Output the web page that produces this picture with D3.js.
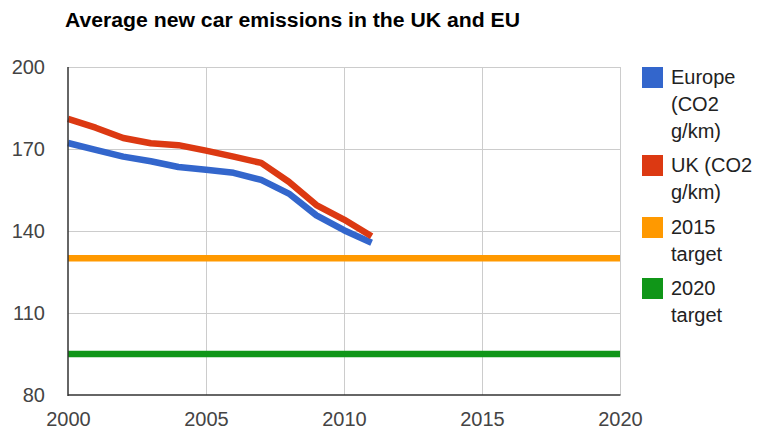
<!DOCTYPE html>
<html>
<head>
<meta charset="utf-8">
<script src="https://cdn.jsdelivr.net/npm/d3@7"></script>
<style>
  html, body { margin: 0; padding: 0; background: #fff; }
  svg { display: block; font-family: Arial, "Liberation Sans", sans-serif; }
</style>
</head>
<body>
<svg id="chart" width="758" height="429"></svg>
<script>
const title = "Average new car emissions in the UK and EU";
const years = [2000, 2001, 2002, 2003, 2004, 2005, 2006, 2007, 2008, 2009, 2010, 2011];
const europe = [172.2, 169.7, 167.2, 165.5, 163.4, 162.4, 161.3, 158.7, 153.7, 145.7, 140.3, 135.7];
const uk = [181.0, 177.8, 174.0, 172.1, 171.4, 169.4, 167.2, 164.9, 158.0, 149.5, 144.2, 138.1];
const targetYears = [2000, 2020];
const target2015 = [130, 130];
const target2020 = [95, 95];
const xTicks = [2000, 2005, 2010, 2015, 2020];
const yTicks = [80, 110, 140, 170, 200];
const seriesNames = [["Europe", "(CO2", "g/km)"], ["UK (CO2", "g/km)"], ["2015", "target"], ["2020", "target"]];
const seriesColors = ["#3366cc", "#dc3912", "#ff9900", "#109618"];

(function () {
const svg = d3.select("#chart");
const pLeft = 68, pRight = 620, pTop = 67, pBottom = 395;
const x = d3.scaleLinear().domain([2000, 2020]).range([pLeft, pRight]);
const y = d3.scaleLinear().domain([80, 200]).range([pBottom, pTop]);

// title
svg.append("text")
  .attr("x", 65).attr("y", 27)
  .attr("font-size", 20).attr("font-weight", "bold").attr("fill", "#000")
  .attr("textLength", 455).attr("lengthAdjust", "spacingAndGlyphs")
  .text(title);

// gridlines
const grid = svg.append("g");
grid.selectAll("line.h").data(yTicks.filter(d => d !== 80)).join("line")
  .attr("x1", pLeft).attr("x2", pRight)
  .attr("y1", d => y(d) + 0.5).attr("y2", d => y(d) + 0.5)
  .attr("stroke", "#cccccc").attr("stroke-width", 1);
grid.selectAll("line.v").data(xTicks.filter(d => d !== 2000)).join("line")
  .attr("y1", pTop).attr("y2", pBottom)
  .attr("x1", d => x(d) + 0.5).attr("x2", d => x(d) + 0.5)
  .attr("stroke", "#cccccc").attr("stroke-width", 1);

// series
const line = d3.line().x(d => x(d[0])).y(d => y(d[1]));
const seriesData = [
  d3.zip(years, europe),
  d3.zip(years, uk),
  d3.zip(targetYears, target2015),
  d3.zip(targetYears, target2020)
];
svg.append("g").selectAll("path").data(seriesData).join("path")
  .attr("d", line)
  .attr("fill", "none")
  .attr("stroke", (d, i) => seriesColors[i])
  .attr("stroke-width", 6.5)
  .attr("stroke-linejoin", "round");

// axes
const yAxis = svg.append("g")
  .attr("transform", `translate(${pLeft},0)`)
  .call(d3.axisLeft(y).tickValues(yTicks).tickSize(0).tickPadding(23));
yAxis.select(".domain").remove();
yAxis.selectAll("text").attr("font-size", 20).attr("fill", "#444").attr("font-family", "Arial, 'Liberation Sans', sans-serif");

const xAxis = svg.append("g")
  .attr("transform", `translate(0,${pBottom})`)
  .call(d3.axisBottom(x).tickValues(xTicks).tickFormat(d3.format("d")).tickSize(0).tickPadding(17));
xAxis.select(".domain").remove();
xAxis.selectAll("text").attr("font-size", 20).attr("fill", "#444").attr("font-family", "Arial, 'Liberation Sans', sans-serif");

svg.append("line").attr("x1", pLeft).attr("x2", pLeft).attr("y1", pTop).attr("y2", pBottom + 1)
  .attr("stroke", "#333").attr("stroke-width", 1.5);
svg.append("line").attr("x1", pLeft).attr("x2", pRight + 0.5).attr("y1", pBottom).attr("y2", pBottom)
  .attr("stroke", "#333").attr("stroke-width", 1.5);

// legend
const legendTops = [67, 155, 217, 278];
const leg = svg.append("g");
seriesNames.forEach((lines, i) => {
  const g = leg.append("g").attr("transform", `translate(642,${legendTops[i]})`);
  g.append("rect").attr("width", 21).attr("height", 21).attr("fill", seriesColors[i]);
  lines.forEach((t, j) => {
    g.append("text").attr("x", 29).attr("y", 17 + j * 27)
      .attr("font-size", 20).attr("fill", "#222").text(t);
  });
});
})();
</script>
</body>
</html>
